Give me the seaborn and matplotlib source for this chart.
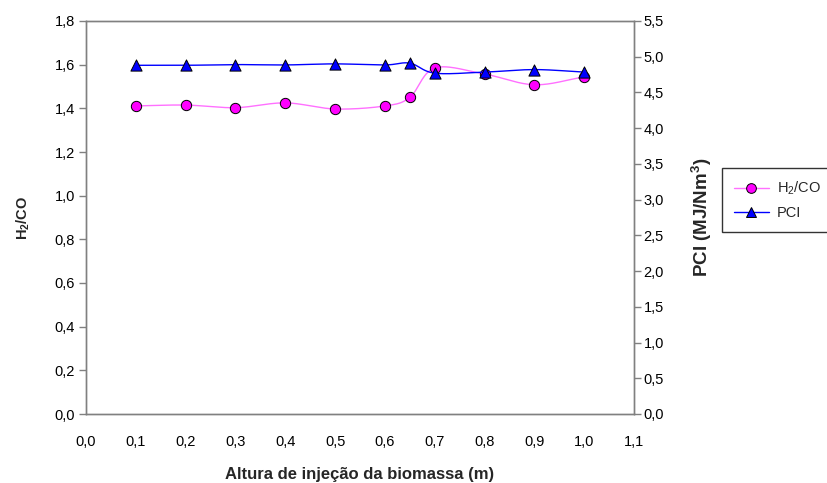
import numpy as np
import pandas as pd
import matplotlib
matplotlib.use("Agg")
import matplotlib.pyplot as plt
from matplotlib.lines import Line2D
import seaborn as sns

# Injection height of biomass (m)
altura = [0.1, 0.2, 0.3, 0.4, 0.5, 0.6, 0.65, 0.7, 0.8, 0.9, 1.0]
# H2/CO ratio
h2_co = [1.411, 1.415, 1.403, 1.425, 1.397, 1.411, 1.450, 1.585, 1.557, 1.508, 1.544]
# Lower heating value (MJ/Nm3)
pci = [4.88, 4.88, 4.89, 4.885, 4.90, 4.885, 4.91, 4.77, 4.785, 4.82, 4.785]

x_ticks = [0.0, 0.1, 0.2, 0.3, 0.4, 0.5, 0.6, 0.7, 0.8, 0.9, 1.0, 1.1]
y_left_ticks = [0.0, 0.2, 0.4, 0.6, 0.8, 1.0, 1.2, 1.4, 1.6, 1.8]
y_right_ticks = [0.0, 0.5, 1.0, 1.5, 2.0, 2.5, 3.0, 3.5, 4.0, 4.5, 5.0, 5.5]


def smooth(xs, ys, n=30):
    """Catmull-Rom spline through the points (spreadsheet-style smoothed line)."""
    px = np.asarray(xs, float)
    py = np.asarray(ys, float)
    px = np.concatenate([[2 * px[0] - px[1]], px, [2 * px[-1] - px[-2]]])
    py = np.concatenate([[2 * py[0] - py[1]], py, [2 * py[-1] - py[-2]]])
    out_x, out_y = [], []
    t = np.linspace(0, 1, n, endpoint=False)
    for i in range(1, len(px) - 2):
        for arr, out in ((px, out_x), (py, out_y)):
            p0, p1, p2, p3 = arr[i - 1], arr[i], arr[i + 1], arr[i + 2]
            out.extend(0.5 * ((2 * p1) + (-p0 + p2) * t
                              + (2 * p0 - 5 * p1 + 4 * p2 - p3) * t ** 2
                              + (-p0 + 3 * p1 - 3 * p2 + p3) * t ** 3))
    out_x.append(xs[-1])
    out_y.append(ys[-1])
    return np.array(out_x), np.array(out_y)


def fmt(values):
    return [f"{v:.1f}".replace(".", ",") for v in values]


sns.set_style("white")
plt.rcParams["font.family"] = ["Liberation Sans", "DejaVu Sans"]
plt.rcParams["mathtext.fontset"] = "custom"
plt.rcParams["mathtext.rm"] = "Liberation Sans"
plt.rcParams["mathtext.bf"] = "Liberation Sans:bold"

fig = plt.figure(figsize=(8.27, 4.83), dpi=100)
ax = fig.add_axes([86 / 827, 1 - 414 / 483, (634 - 86) / 827, (414 - 21) / 483])
ax2 = ax.twinx()

pink_line = "#ff70ff"
pink = "#ff00ff"
blue = "#0000ff"

sx, sy = smooth(altura, h2_co)
sns.lineplot(x=sx, y=sy, ax=ax, color=pink_line, lw=1.0, sort=False, estimator=None)
sns.scatterplot(x=altura, y=h2_co, ax=ax, color=pink, edgecolor="black",
                linewidth=0.7, s=55, marker="o", zorder=5)

bx, by = smooth(altura, pci)
sns.lineplot(x=bx, y=by, ax=ax2, color=blue, lw=1.0, sort=False, estimator=None)
sns.scatterplot(x=altura, y=pci, ax=ax2, color=blue, edgecolor="black",
                linewidth=0.7, s=65, marker="^", zorder=5)

ax.set_xlim(0, 1.1)
ax.set_ylim(0, 1.8)
ax2.set_ylim(0, 5.5)

ax.set_xticks(x_ticks)
ax.set_xticklabels(fmt(x_ticks))
ax.set_yticks(y_left_ticks)
ax.set_yticklabels(fmt(y_left_ticks))
ax2.set_yticks(y_right_ticks)
ax2.set_yticklabels(fmt(y_right_ticks))

spine_color = "#808080"
for a in (ax, ax2):
    for s in ("left", "right", "bottom", "top"):
        a.spines[s].set_visible(True)
        a.spines[s].set_color(spine_color)
        a.spines[s].set_linewidth(1.0)
    a.tick_params(axis="both", which="major", direction="out", length=5,
                  width=1.0, color=spine_color, labelsize=10.5, labelcolor="black")
    a.grid(False)
ax.tick_params(axis="x", pad=10)
ax.tick_params(axis="y", pad=3)
ax2.tick_params(axis="y", pad=2)

ax.set_xlabel("Altura de injeção da biomassa (m)", fontsize=12,
              fontweight="bold", labelpad=13)
ax.set_ylabel(r"H$_\mathbf{2}$/CO", fontsize=10.5, fontweight="bold", labelpad=16)
ax2.set_ylabel(r"PCI (MJ/Nm$^\mathbf{3}$)", fontsize=13.5, fontweight="bold",
               labelpad=18)

handles = [
    Line2D([0], [0], color=pink_line, lw=1.0, marker="o", markersize=7,
           markerfacecolor=pink, markeredgecolor="black", markeredgewidth=0.7),
    Line2D([0], [0], color=blue, lw=1.0, marker="^", markersize=7.5,
           markerfacecolor=blue, markeredgecolor="black", markeredgewidth=0.7),
]
leg = fig.legend(handles, [r"H$_2$/CO", "PCI"], loc="upper left",
                 bbox_to_anchor=(722 / 827, 1 - 168 / 483), frameon=True,
                 fancybox=False, edgecolor="black", fontsize=10.5,
                 handlelength=2.4, borderpad=0.8, labelspacing=0.6,
                 handletextpad=0.55, borderaxespad=0)
leg.get_frame().set_linewidth(1.0)

fig.savefig("out.png", dpi=100, facecolor="white")
